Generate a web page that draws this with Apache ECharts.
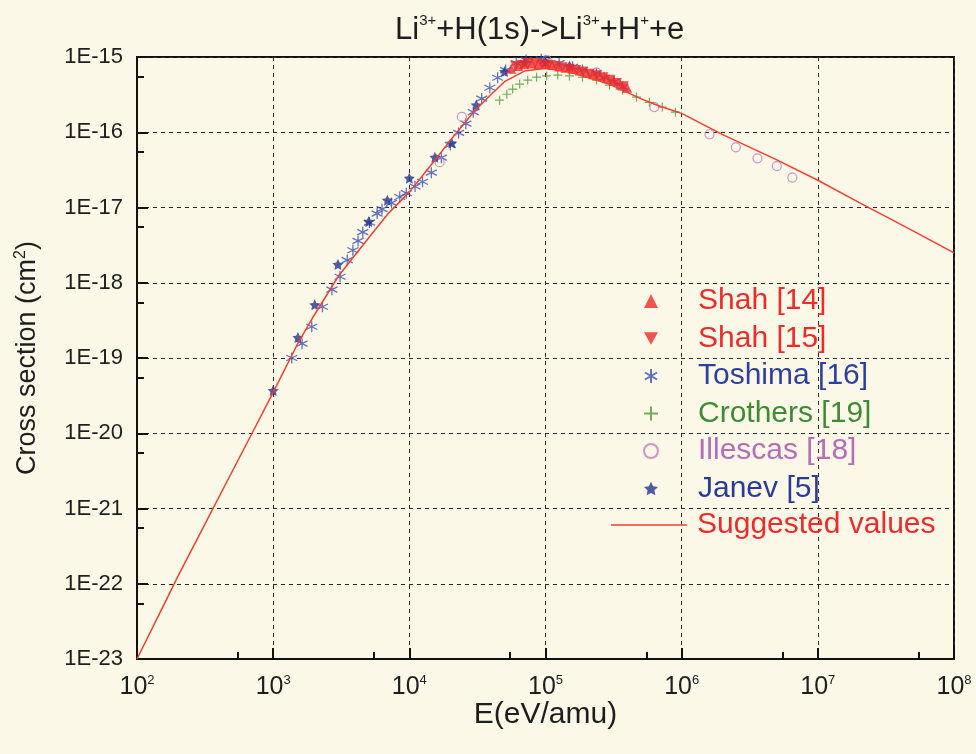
<!DOCTYPE html>
<html>
<head>
<meta charset="utf-8">
<script src="https://cdn.jsdelivr.net/npm/echarts@6/dist/echarts.min.js"></script>
<style>
  html, body { margin: 0; padding: 0; background: #fbf8e7; }
  #chart { width: 976px; height: 754px; }
</style>
</head>
<body>
<div id="chart"></div>
<script>
// ---------------- data ----------------
const suggestedE     = [1e2, 1.5e2, 2e2, 3e2, 5e2, 7e2, 1e3, 1.5e3, 2e3, 3e3, 5e3, 7e3, 1e4, 1.5e4, 2e4, 3e4, 4e4, 5e4, 7e4, 1e5, 1.5e5, 2e5, 3e5, 5e5, 7e5, 1e6, 2e6, 5e6, 1e7, 2e7, 5e7, 1e8];
const suggestedSigma = [1.0e-23, 4.4e-23, 1.26e-22, 5.2e-22, 3.1e-21, 1.0e-20, 3.5e-20, 1.5e-19, 3.7e-19, 1.21e-18, 3.9e-18, 8.3e-18, 1.6e-17, 4.0e-17, 7.8e-17, 1.9e-16, 3.2e-16, 4.7e-16, 6.5e-16, 7.1e-16, 6.3e-16, 5.4e-16, 4.3e-16, 2.8e-16, 2.2e-16, 1.78e-16, 9.3e-17, 4.3e-17, 2.3e-17, 1.17e-17, 4.9e-18, 2.5e-18];

const shah14E     = [5.6e4, 6.3e4, 7.0e4, 7.9e4, 8.9e4, 1.0e5, 1.12e5, 1.26e5, 1.41e5, 1.58e5, 1.78e5, 2.0e5, 2.24e5, 2.51e5, 2.82e5, 3.16e5, 3.55e5, 3.98e5];
const shah14Sigma = [7.0e-16, 7.6e-16, 8.0e-16, 8.2e-16, 8.1e-16, 8.0e-16, 7.8e-16, 7.5e-16, 7.2e-16, 7.0e-16, 6.6e-16, 6.2e-16, 5.9e-16, 5.6e-16, 5.2e-16, 4.8e-16, 4.3e-16, 3.9e-16];

const shah15E     = [6.0e4, 6.7e4, 7.5e4, 8.4e4, 9.4e4, 1.06e5, 1.19e5, 1.33e5, 1.5e5, 1.68e5, 1.88e5, 2.11e5, 2.37e5, 2.66e5, 2.99e5, 3.35e5, 3.76e5];
const shah15Sigma = [7.6e-16, 7.9e-16, 8.3e-16, 8.3e-16, 8.0e-16, 7.9e-16, 7.6e-16, 7.3e-16, 7.0e-16, 6.7e-16, 6.4e-16, 6.0e-16, 5.7e-16, 5.4e-16, 5.0e-16, 4.5e-16, 4.1e-16];

const toshimaE     = [1.37e3, 1.63e3, 1.92e3, 2.3e3, 2.7e3, 3.1e3, 3.5e3, 3.85e3, 4.2e3, 4.55e3, 5.1e3, 5.8e3, 6.3e3, 7.4e3, 8.5e3, 9.5e3, 1.1e4, 1.25e4, 1.45e4, 1.72e4, 2.0e4, 2.3e4, 2.6e4, 2.95e4, 3.4e4, 3.9e4, 4.45e4, 5.1e4, 6.1e4, 7.2e4, 9.3e4, 1.0e5, 1.26e5, 1.58e5, 1.87e5, 2.37e5, 2.7e5, 3.2e5, 3.7e5];
const toshimaSigma = [1.0e-19, 1.55e-19, 2.6e-19, 4.8e-19, 8.1e-19, 1.2e-18, 2.0e-18, 2.7e-18, 3.6e-18, 4.7e-18, 6.3e-18, 8.3e-18, 9.5e-18, 1.15e-17, 1.38e-17, 1.55e-17, 1.9e-17, 2.2e-17, 2.9e-17, 4.6e-17, 6.8e-17, 9.8e-17, 1.3e-16, 1.85e-16, 2.8e-16, 3.9e-16, 5.3e-16, 6.7e-16, 8.3e-16, 9.1e-16, 9.3e-16, 9.0e-16, 8.3e-16, 7.4e-16, 6.7e-16, 6.1e-16, 5.3e-16, 4.7e-16, 4.0e-16];

const crothersE     = [4.6e4, 5.2e4, 5.74e4, 6.46e4, 7.4e4, 8.6e4, 1.02e5, 1.23e5, 1.5e5, 1.87e5, 2.37e5, 2.95e5, 3.68e5, 4.66e5, 5.8e5, 7.2e5, 9.0e5];
const crothersSigma = [2.67e-16, 3.2e-16, 3.75e-16, 4.37e-16, 4.94e-16, 5.4e-16, 5.6e-16, 5.75e-16, 5.6e-16, 5.4e-16, 4.94e-16, 4.23e-16, 3.64e-16, 2.93e-16, 2.5e-16, 2.16e-16, 1.85e-16];

const illescasE     = [1.67e4, 2.43e4, 1.02e5, 2.37e5, 6.3e5, 1.6e6, 2.5e6, 3.6e6, 5.0e6, 6.5e6];
const illescasSigma = [4.0e-17, 1.6e-16, 9.1e-16, 6.2e-16, 2.16e-16, 9.4e-17, 6.3e-17, 4.5e-17, 3.55e-17, 2.5e-17];

const janevE     = [1.0e3, 1.52e3, 2.02e3, 2.99e3, 5.03e3, 6.9e3, 1.0e4, 1.54e4, 2.05e4, 3.1e4, 5.0e4, 7.0e4, 1.0e5, 1.5e5];
const janevSigma = [3.7e-20, 1.87e-19, 5.1e-19, 1.75e-18, 6.5e-18, 1.25e-17, 2.45e-17, 4.65e-17, 7.2e-17, 2.3e-16, 6.4e-16, 8.4e-16, 8.6e-16, 7.6e-16];

const seriesNames = ['Shah [14]', 'Shah [15]', 'Toshima [16]', 'Crothers [19]', 'Illescas [18]', 'Janev [5]', 'Suggested values'];
const xRange = [1e2, 1e8];
const yRange = [1e-23, 1e-15];
// ------------------------------------------------------------------

// ECharts' log scale cannot handle values as tiny as 1e-23 cm^2, so the y axis
// works in units of 1e-23 cm^2 and the tick labels convert back to cm^2.
const Y_UNIT = 1e-23;
const Y_UNIT_EXP = -23;
const zip = (a, b) => a.map((v, i) => [v, b[i] / Y_UNIT]);

const RED = '#ee2b2b';
const BLUE = '#3a4fb8';
const NAVY = '#27338f';
const GREEN = '#4f9a3a';
const PINK = '#c27ac0';
const FONT = '"Liberation Sans", Arial, sans-serif';

const ASTERISK = 'path://M0,-5L0,5M-4.33,-2.5L4.33,2.5M-4.33,2.5L4.33,-2.5';
const PLUS = 'path://M0,-5L0,5M-5,0L5,0';
const STAR = 'path://M0,-10L2.9,-4L9.5,-3.1L4.7,1.5L5.9,8.1L0,5L-5.9,8.1L-4.7,1.5L-9.5,-3.1L-2.9,-4Z';
const DOWN_TRI = 'path://M-5,-4.5L5,-4.5L0,4.5Z';
const LEGEND_LINE = 'path://M0,0H76V1.5H0Z';

const chart = echarts.init(document.getElementById('chart'), null, { renderer: 'canvas' });

const option = {
  backgroundColor: '#fbf8e7',
  animation: false,
  title: {
    text: '{a|Li}{s|3+}{a|+H(1s)->Li}{s|3+}{a|+H}{s|+}{a|+e}',
    left: 390,
    top: 8,
    textStyle: {
      rich: {
        a: { fontSize: 31, fontFamily: FONT, fontWeight: 'normal', color: '#1e1e1e', lineHeight: 34 },
        s: { fontSize: 15, fontFamily: FONT, fontWeight: 'normal', color: '#1e1e1e', lineHeight: 15, verticalAlign: 'top' }
      }
    }
  },
  grid: {
    left: 137, right: 22, top: 57, bottom: 95,
    show: true, borderColor: '#111', borderWidth: 2, backgroundColor: 'rgba(0,0,0,0)',
    containLabel: false
  },
  legend: [
    {
      orient: 'vertical',
      left: 638, top: 281,
      itemWidth: 14, itemHeight: 14, itemGap: 7.5,
      data: [
        { name: seriesNames[0], textStyle: { color: RED } },
        { name: seriesNames[1], icon: DOWN_TRI, textStyle: { color: RED } },
        { name: seriesNames[2], textStyle: { color: '#2f3f9f' } },
        { name: seriesNames[3], textStyle: { color: '#3f8a35' } },
        { name: seriesNames[4], textStyle: { color: '#b66db5' } },
        { name: seriesNames[5], textStyle: { color: '#2b3a98' } }
      ],
      textStyle: { fontSize: 30, fontFamily: FONT, lineHeight: 30, padding: [0, 0, 0, 35] }
    },
    {
      orient: 'vertical',
      left: 606, top: 505,
      itemWidth: 76, itemHeight: 14,
      data: [{ name: seriesNames[6], icon: LEGEND_LINE, textStyle: { color: RED } }],
      textStyle: { fontSize: 30, fontFamily: FONT, lineHeight: 30, padding: [0, 0, 0, 5] }
    }
  ],
  xAxis: {
    type: 'log', logBase: 10, min: xRange[0], max: xRange[1], splitNumber: 6,
    name: 'E(eV/amu)', nameLocation: 'middle', nameGap: 41, nameMoveOverlap: false,
    nameTextStyle: { fontSize: 30, fontFamily: FONT, color: '#1e1e1e' },
    axisLine: { lineStyle: { color: '#111', width: 2 } },
    axisTick: { inside: true, length: 11, lineStyle: { color: '#111', width: 2 } },
    minorTick: { show: true, splitNumber: 2, length: 7, lineStyle: { color: '#111', width: 2 } },
    splitLine: { show: true, lineStyle: { color: '#2a2a2a', width: 1, type: [4, 4] } },
    axisLabel: {
      margin: 15,
      formatter: function (v) {
        const e = Math.round(Math.log10(v));
        return '{b|10}{s|' + e + '}';
      },
      rich: {
        b: { fontSize: 25, fontFamily: FONT, color: '#1e1e1e', lineHeight: 27 },
        s: { fontSize: 13, fontFamily: FONT, color: '#1e1e1e', lineHeight: 13, verticalAlign: 'top' }
      }
    }
  },
  yAxis: {
    type: 'log', logBase: 10, min: yRange[0] / Y_UNIT, max: yRange[1] / Y_UNIT, splitNumber: 8,
    name: '{a|Cross section (cm}{s|2}{a|)}', nameLocation: 'middle', nameGap: 94, nameRotate: 90,
    nameMoveOverlap: false,
    nameTextStyle: {
      rich: {
        a: { fontSize: 27, fontFamily: FONT, color: '#1e1e1e', lineHeight: 30 },
        s: { fontSize: 16, fontFamily: FONT, color: '#1e1e1e', lineHeight: 16, verticalAlign: 'top' }
      }
    },
    axisLine: { lineStyle: { color: '#111', width: 2 } },
    axisTick: { inside: true, length: 11, lineStyle: { color: '#111', width: 2 } },
    minorTick: { show: true, splitNumber: 2, length: 7, lineStyle: { color: '#111', width: 2 } },
    splitLine: { show: true, lineStyle: { color: '#2a2a2a', width: 1, type: [4, 4] } },
    axisLabel: {
      margin: 14, fontSize: 22, fontFamily: FONT, color: '#1e1e1e',
      formatter: function (v) {
        const e = Math.round(Math.log10(v)) + Y_UNIT_EXP;
        return '1E' + e;
      }
    }
  },
  series: [
    {
      name: seriesNames[0], type: 'scatter', data: zip(shah14E, shah14Sigma),
      symbol: 'triangle', symbolSize: 10, itemStyle: { color: RED }, z: 4
    },
    {
      name: seriesNames[1], type: 'scatter', data: zip(shah15E, shah15Sigma),
      symbol: DOWN_TRI, symbolSize: 10, itemStyle: { color: RED }, z: 4
    },
    {
      name: seriesNames[2], type: 'scatter', data: zip(toshimaE, toshimaSigma),
      symbol: ASTERISK, symbolSize: 11,
      itemStyle: { color: 'rgba(0,0,0,0)', borderColor: BLUE, borderWidth: 1.3 }, z: 3
    },
    {
      name: seriesNames[3], type: 'scatter', data: zip(crothersE, crothersSigma),
      symbol: PLUS, symbolSize: 9,
      itemStyle: { color: 'rgba(0,0,0,0)', borderColor: GREEN, borderWidth: 1.2 }, z: 3
    },
    {
      name: seriesNames[4], type: 'scatter', data: zip(illescasE, illescasSigma),
      symbol: 'circle', symbolSize: 9,
      itemStyle: { color: 'rgba(0,0,0,0)', borderColor: PINK, borderWidth: 1.2 }, z: 3
    },
    {
      name: seriesNames[5], type: 'scatter', data: zip(janevE, janevSigma),
      symbol: STAR, symbolSize: 11, itemStyle: { color: NAVY }, z: 3
    },
    {
      name: seriesNames[6], type: 'line', data: zip(suggestedE, suggestedSigma),
      symbol: 'none', showSymbol: false, smooth: false,
      lineStyle: { color: '#f0402e', width: 1.5 }, itemStyle: { color: '#f0402e' }, z: 5
    }
  ]
};

chart.setOption(option);
</script>
</body>
</html>
